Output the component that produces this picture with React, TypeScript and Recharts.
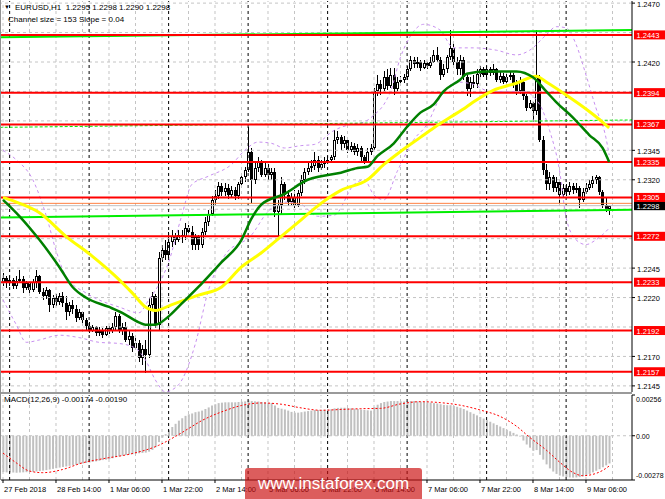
import React from "react";
import { ComposedChart, Bar, Line, XAxis, YAxis, ReferenceLine } from "recharts";

const FONT = '"Liberation Sans", Arial, sans-serif';

// EURUSD H1 candles: [open, high, low, close]
const candles: number[][] = [
  [1.2233,1.2241,1.2230,1.2237],[1.2237,1.2238,1.2228,1.2232],[1.2232,1.2238,1.2230,1.2235],[1.2235,1.2237,1.2227,1.2230],
  [1.2230,1.2238,1.2227,1.2234],[1.2234,1.2243,1.2232,1.2236],[1.2236,1.2238,1.2224,1.2228],[1.2228,1.2234,1.2226,1.2232],
  [1.2232,1.2233,1.2224,1.2226],[1.2226,1.2236,1.2225,1.2233],[1.2233,1.2243,1.2228,1.2238],[1.2238,1.2239,1.2223,1.2225],
  [1.2225,1.2228,1.2218,1.2221],[1.2221,1.2229,1.2219,1.2226],[1.2226,1.2227,1.2208,1.2214],[1.2214,1.2222,1.2211,1.2220],
  [1.2220,1.2223,1.2213,1.2216],[1.2216,1.2224,1.2214,1.2221],[1.2221,1.2225,1.2212,1.2215],[1.2215,1.2221,1.2201,1.2208],
  [1.2208,1.2216,1.2204,1.2214],[1.2214,1.2218,1.2206,1.2210],[1.2210,1.2214,1.2199,1.2203],[1.2203,1.2210,1.2201,1.2208],
  [1.2208,1.2209,1.2197,1.2201],[1.2201,1.2203,1.2192,1.2196],[1.2196,1.2199,1.2190,1.2192],[1.2192,1.2197,1.2191,1.2195],
  [1.2195,1.2196,1.2187,1.2190],[1.2190,1.2195,1.2187,1.2192],[1.2192,1.2194,1.2186,1.2188],[1.2188,1.2196,1.2187,1.2194],
  [1.2194,1.2196,1.2189,1.2192],[1.2192,1.2198,1.2190,1.2195],[1.2195,1.2208,1.2192,1.2204],[1.2204,1.2206,1.2190,1.2192],
  [1.2192,1.2198,1.2188,1.2195],[1.2195,1.2199,1.2182,1.2184],[1.2184,1.2192,1.2180,1.2187],[1.2187,1.2190,1.2174,1.2177],
  [1.2177,1.2186,1.2176,1.2181],[1.2181,1.2184,1.2165,1.2169],[1.2169,1.2180,1.2163,1.2176],[1.2176,1.2184,1.2156,1.2171],
  [1.2171,1.2220,1.2169,1.2214],[1.2214,1.2225,1.2210,1.2221],[1.2221,1.2223,1.2194,1.2197],[1.2197,1.2259,1.2192,1.2254],
  [1.2254,1.2265,1.2250,1.2260],[1.2260,1.2269,1.2252,1.2256],[1.2256,1.2276,1.2254,1.2267],[1.2267,1.2277,1.2263,1.2272],
  [1.2272,1.2275,1.2265,1.2269],[1.2269,1.2277,1.2267,1.2273],[1.2273,1.2277,1.2266,1.2271],[1.2271,1.2283,1.2269,1.2279],
  [1.2279,1.2282,1.2272,1.2276],[1.2276,1.2281,1.2260,1.2265],[1.2265,1.2274,1.2260,1.2271],[1.2271,1.2273,1.2260,1.2265],
  [1.2265,1.2279,1.2262,1.2276],[1.2276,1.2288,1.2273,1.2284],[1.2284,1.2294,1.2281,1.2291],[1.2291,1.2306,1.2289,1.2303],
  [1.2303,1.2311,1.2299,1.2306],[1.2306,1.2318,1.2304,1.2315],[1.2315,1.2317,1.2306,1.2310],[1.2310,1.2317,1.2306,1.2313],
  [1.2313,1.2316,1.2304,1.2307],[1.2307,1.2315,1.2305,1.2311],[1.2311,1.2314,1.2303,1.2306],[1.2306,1.2318,1.2304,1.2316],
  [1.2316,1.2324,1.2313,1.2322],[1.2322,1.2331,1.2318,1.2328],[1.2328,1.2365,1.2327,1.2344],[1.2344,1.2347,1.2300,1.2320],
  [1.2320,1.2334,1.2316,1.2330],[1.2330,1.2339,1.2327,1.2335],[1.2335,1.2337,1.2322,1.2324],[1.2324,1.2334,1.2322,1.2330],
  [1.2330,1.2333,1.2320,1.2324],[1.2324,1.2330,1.2320,1.2327],[1.2327,1.2330,1.2288,1.2293],[1.2293,1.2303,1.2272,1.2299],
  [1.2299,1.2322,1.2290,1.2316],[1.2316,1.2318,1.2303,1.2307],[1.2307,1.2311,1.2298,1.2301],[1.2301,1.2309,1.2299,1.2305],
  [1.2305,1.2311,1.2296,1.2299],[1.2299,1.2311,1.2297,1.2309],[1.2309,1.2324,1.2306,1.2320],[1.2320,1.2330,1.2316,1.2327],
  [1.2327,1.2334,1.2324,1.2330],[1.2330,1.2337,1.2327,1.2332],[1.2332,1.2344,1.2328,1.2337],[1.2337,1.2340,1.2327,1.2330],
  [1.2330,1.2337,1.2328,1.2333],[1.2333,1.2339,1.2330,1.2335],[1.2335,1.2340,1.2334,1.2337],[1.2337,1.2341,1.2334,1.2339],
  [1.2339,1.2362,1.2337,1.2354],[1.2354,1.2361,1.2350,1.2356],[1.2356,1.2358,1.2345,1.2350],[1.2350,1.2357,1.2347,1.2354],
  [1.2354,1.2356,1.2343,1.2345],[1.2345,1.2352,1.2344,1.2349],[1.2349,1.2351,1.2341,1.2344],[1.2344,1.2350,1.2340,1.2347],
  [1.2347,1.2349,1.2335,1.2339],[1.2339,1.2341,1.2333,1.2335],[1.2335,1.2347,1.2334,1.2344],[1.2344,1.2350,1.2341,1.2347],
  [1.2347,1.2398,1.2345,1.2395],[1.2395,1.2409,1.2391,1.2401],[1.2401,1.2405,1.2392,1.2397],[1.2397,1.2412,1.2395,1.2407],
  [1.2407,1.2414,1.2396,1.2400],[1.2400,1.2415,1.2398,1.2409],[1.2409,1.2415,1.2392,1.2397],[1.2397,1.2407,1.2395,1.2403],
  [1.2403,1.2408,1.2401,1.2405],[1.2405,1.2410,1.2402,1.2407],[1.2407,1.2417,1.2405,1.2414],[1.2414,1.2425,1.2412,1.2422],
  [1.2422,1.2424,1.2415,1.2418],[1.2418,1.2424,1.2415,1.2420],[1.2420,1.2422,1.2412,1.2415],[1.2415,1.2422,1.2414,1.2419],
  [1.2419,1.2420,1.2414,1.2417],[1.2417,1.2424,1.2415,1.2420],[1.2420,1.2430,1.2419,1.2426],[1.2426,1.2433,1.2420,1.2422],
  [1.2422,1.2424,1.2405,1.2409],[1.2409,1.2418,1.2407,1.2414],[1.2414,1.2426,1.2411,1.2424],[1.2424,1.2447,1.2422,1.2432],
  [1.2432,1.2435,1.2417,1.2420],[1.2420,1.2424,1.2409,1.2414],[1.2414,1.2426,1.2409,1.2422],[1.2422,1.2424,1.2405,1.2407],
  [1.2407,1.2409,1.2391,1.2397],[1.2397,1.2407,1.2390,1.2403],[1.2403,1.2409,1.2398,1.2401],[1.2401,1.2414,1.2398,1.2410],
  [1.2410,1.2417,1.2407,1.2414],[1.2414,1.2416,1.2407,1.2409],[1.2409,1.2417,1.2407,1.2414],[1.2414,1.2416,1.2408,1.2411],
  [1.2411,1.2418,1.2409,1.2414],[1.2414,1.2415,1.2403,1.2405],[1.2405,1.2412,1.2402,1.2408],[1.2408,1.2411,1.2401,1.2403],
  [1.2403,1.2410,1.2401,1.2407],[1.2407,1.2412,1.2405,1.2409],[1.2409,1.2411,1.2398,1.2401],[1.2401,1.2405,1.2392,1.2395],
  [1.2395,1.2407,1.2393,1.2403],[1.2403,1.2405,1.2388,1.2391],[1.2391,1.2393,1.2378,1.2381],[1.2381,1.2388,1.2380,1.2385],
  [1.2385,1.2386,1.2369,1.2378],[1.2378,1.2447,1.2375,1.2407],[1.2407,1.2409,1.2352,1.2354],[1.2354,1.2357,1.2324,1.2328],
  [1.2328,1.2333,1.2311,1.2316],[1.2316,1.2327,1.2311,1.2322],[1.2322,1.2324,1.2310,1.2313],[1.2313,1.2322,1.2310,1.2318],
  [1.2318,1.2320,1.2299,1.2307],[1.2307,1.2316,1.2305,1.2313],[1.2313,1.2316,1.2306,1.2310],[1.2310,1.2318,1.2307,1.2315],
  [1.2315,1.2317,1.2308,1.2311],[1.2311,1.2317,1.2309,1.2313],[1.2313,1.2315,1.2296,1.2303],[1.2303,1.2313,1.2301,1.2310],
  [1.2310,1.2317,1.2308,1.2313],[1.2313,1.2320,1.2311,1.2316],[1.2316,1.2323,1.2313,1.2320],[1.2320,1.2324,1.2316,1.2322],
  [1.2322,1.2323,1.2307,1.2310],[1.2310,1.2311,1.2296,1.2299],[1.2299,1.2305,1.2293,1.2295],[1.2295,1.2298,1.2290,1.2298],
];

// MACD(12,26,9) histogram, in units of 0.00001
const macdHist: number[] = [
  -228,-230,-231,-231,-232,-231,-230,-229,-228,-226,
  -224,-222,-219,-216,-212,-208,-204,-200,-196,-193,
  -189,-186,-182,-178,-174,-171,-168,-164,-161,-157,
  -153,-150,-146,-141,-134,-130,-125,-121,-118,-116,
  -113,-110,-108,-106,-100,-89,-72,-40,
  -12,10,35,55,75,95,110,125,135,140,148,152,
  158,168,178,190,198,205,208,210,210,210,
  210,212,214,216,222,218,216,215,212,210,
  208,206,190,175,170,165,158,150,145,145,
  148,152,155,158,162,162,163,164,165,166,
  172,175,176,176,174,172,170,168,165,162,160,158,
  180,195,205,212,215,218,218,218,
  216,215,216,218,218,216,214,212,210,208,
  205,203,198,194,192,192,188,182,176,168,
  158,148,138,128,118,108,98,88,78,68,
  58,48,38,28,18,8,-5,-30,-55,-75,-95,
  -90,-120,-150,-180,-205,-225,-240,-250,-256,
  -260,-262,-263,-262,-260,-255,-248,-240,-230,-220,-210,-198,-186,-174,
];

// MACD signal line readings [bar, value x 0.00001]
const macdSignal: number[][] = [
  [0,-109],[4,-170],[8,-222],[12,-232],[18,-212],[24,-170],[30,-145],[39,-112],[47,-60],[52,-5],
  [56,45],[60,95],[66,150],[72,190],[78,206],[84,198],[90,175],[96,160],[102,165],[108,170],
  [114,172],[120,200],[126,214],[132,208],[138,192],[144,162],[150,122],[155,60],[159,-10],[164,-90],
  [168,-165],[172,-230],[175,-251],[178,-243],[181,-218],[183,-190],
];

// Moving averages [bar, price]
const maGreen: number[][] = [
  [0,1.2303],[5,1.2289],[11,1.2269],[17,1.2246],[21,1.2229],[25,1.2220],[32,1.2212],[36,1.2207],
  [41,1.2199],[43,1.2197],[46,1.2197],[50,1.2204],[54,1.2215],[59,1.2229],[63,1.2241],[66,1.2250],
  [72,1.2269],[75,1.2287],[78,1.2299],[85,1.2308],[92,1.2320],[96,1.2323],[102,1.2326],[107,1.2330],
  [110,1.2331],[113,1.2340],[118,1.2351],[122,1.2365],[126,1.2377],[130,1.2384],[133,1.2395],[138,1.2405],
  [140,1.2410],[146,1.2412],[155,1.2412],[160,1.2407],[164,1.2395],[167,1.2386],[172,1.2373],[177,1.2358],
  [181,1.2347],[183,1.2335],
];
const maYellow: number[][] = [
  [0,1.2305],[5,1.2300],[11,1.2292],[19,1.2272],[27,1.2255],[34,1.2238],[39,1.2224],[43,1.2212],
  [46,1.2209],[51,1.2214],[59,1.2222],[66,1.2229],[72,1.2246],[78,1.2258],[84,1.2272],[90,1.2286],
  [96,1.2300],[102,1.2311],[110,1.2320],[115,1.2333],[120,1.2344],[126,1.2356],[130,1.2364],[135,1.2373],
  [140,1.2382],[142,1.2386],[148,1.2396],[155,1.2402],[161,1.2408],[164,1.2403],[170,1.2392],[177,1.2378],
  [181,1.2369],[183,1.2364],
];

// Bollinger bands [bar, price]
const bbUpper: number[][] = [
  [0,1.2345],[4,1.2337],[9,1.2320],[13,1.2290],[16,1.2260],[19,1.2238],[25,1.2224],[29,1.2218],
  [35,1.2212],[41,1.2207],[44,1.2218],[47,1.2231],[50,1.2250],[54,1.2290],[57,1.2316],[62,1.2323],
  [69,1.2333],[73,1.2345],[77,1.2352],[81,1.2351],[85,1.2347],[90,1.2349],[94,1.2350],[100,1.2362],
  [105,1.2367],[109,1.2369],[112,1.2375],[115,1.2384],[117,1.2395],[120,1.2424],[123,1.2442],[127,1.2452],
  [132,1.2447],[136,1.2432],[142,1.2432],[149,1.2430],[155,1.2426],[159,1.2430],[164,1.2443],[167,1.2450],
  [170,1.2449],[173,1.2435],[176,1.2409],[179,1.2381],[182,1.2356],[183,1.2341],
];
const bbLower: number[][] = [
  [0,1.2218],[4,1.2197],[7,1.2182],[11,1.2184],[17,1.2188],[23,1.2186],[29,1.2182],[35,1.2181],
  [40,1.2177],[43,1.2167],[46,1.2150],[49,1.2140],[53,1.2146],[58,1.2180],[62,1.2226],[67,1.2256],
  [75,1.2273],[80,1.2293],[85,1.2301],[90,1.2299],[95,1.2289],[100,1.2290],[106,1.2316],[109,1.2320],
  [112,1.2307],[115,1.2303],[119,1.2327],[124,1.2354],[128,1.2367],[132,1.2390],[137,1.2403],[142,1.2401],
  [147,1.2395],[157,1.2395],[162,1.2384],[165,1.2362],[168,1.2328],[170,1.2288],[173,1.2269],[176,1.2265],
  [179,1.2269],[182,1.2276],[183,1.2279],
];

// Regression channel end points [bar, price]
const channelTop: number[][] = [[-1,1.24410],[190,1.24471]];
const channelMid: number[][] = [[-1,1.23645],[190,1.23708]];
const channelBot: number[][] = [[-1,1.22880],[190,1.22945]];

const levels: number[] = [1.2443, 1.2394, 1.2367, 1.2335, 1.2305, 1.2272, 1.2233, 1.2192, 1.2157];
const orangeLevel = 1.2300;
const bidPrice = 1.2298;

const priceTicks: number[] = [1.2470, 1.2420, 1.2345, 1.2320, 1.2245, 1.2220, 1.2170, 1.2145];
const gridPrices: number[] = [1.2470,1.2445,1.2420,1.2395,1.2370,1.2345,1.2320,1.2295,1.2270,1.2245,1.2220,1.2195,1.2170,1.2145];
const timeTickIdx: number[] = [0,16,32,48,64,80,96,112,128,144,160,176];
const timeLabels: string[] = ["27 Feb 2018","28 Feb 14:00","1 Mar 06:00","1 Mar 22:00","2 Mar 14:00","5 Mar 06:00",
  "5 Mar 22:00","6 Mar 14:00","7 Mar 06:00","7 Mar 22:00","8 Mar 14:00","9 Mar 06:00"];
const gridIdx: number[] = [0,8,16,24,32,40,48,56,64,72,80,88,96,104,112,120,128,136,144,152,160,168,176,184];
const daySepIdx: number[] = [2,26,50,74,98,122,146,170];
const macdTicks: number[] = [0.00256, 0, -0.00278];

const X_DOMAIN: [number, number] = [-0.604, 189.89];
const PRICE_DOMAIN: [number, number] = [1.21398, 1.24718];
const MACD_DOMAIN: [number, number] = [-0.00278, 0.00256];

type Row = Record<string, any>;
const rows: Row[] = [{ i: -1 }];
candles.forEach(([o, h, l, c], i) =>
  rows.push({ i, o, h, l, c, range: [l, h], macd: macdHist[i] / 100000 })
);
rows.push({ i: 190 });
const byI = new Map<number, Row>();
rows.forEach((r) => byI.set(r.i, r));
const attach = (pts: number[][], key: string, k = 1) =>
  pts.forEach(([i, v]) => {
    const r = byI.get(i);
    if (r) r[key] = v * k;
  });
attach(maGreen, "maG");
attach(maYellow, "maY");
attach(bbUpper, "bbU");
attach(bbLower, "bbL");
attach(channelTop, "chT");
attach(channelMid, "chM");
attach(channelBot, "chB");
attach(macdSignal, "sig", 0.00001);

function Candle(props: any) {
  const { x, y, width, height, payload } = props;
  if (!payload || payload.o == null || !isFinite(y) || !isFinite(height)) return null;
  const { o, h, l, c } = payload;
  const span = h - l;
  const k = span > 0 ? height / span : 0;
  const py = (p: number) => y + (h - p) * k;
  const cx = Math.round(x + width / 2);
  const top = Math.round(py(Math.max(o, c)));
  const bot = Math.round(py(Math.min(o, c)));
  const bh = Math.max(bot - top, 1);
  const bull = c >= o;
  return (
    <g shapeRendering="crispEdges">
      <line x1={cx + 0.5} x2={cx + 0.5} y1={Math.round(y)} y2={Math.round(y + height)} stroke="#000" strokeWidth={1} />
      {bull ? (
        <rect x={cx - 0.5} y={top + 0.5} width={2} height={Math.max(bh - 1, 0.5)} fill="#fff" stroke="#000" strokeWidth={1} />
      ) : (
        <rect x={cx - 1} y={top} width={3} height={bh} fill="#000" />
      )}
    </g>
  );
}

const Tag = ({ viewBox, text, bg }: any) => {
  if (!viewBox) return null;
  const y = viewBox.y;
  const x = viewBox.x + viewBox.width + 2;
  return (
    <g>
      <rect x={x} y={y - 4.5} width={31} height={9} fill={bg} />
      <text x={x + 2.5} y={y + 3} fontSize={7.5} fontFamily={FONT} fill="#fff">{text}</text>
    </g>
  );
};

const PriceTick = (p: any) => (
  <text x={p.x} y={p.y} dy={3.5} fontSize={7.5} fontFamily={FONT} fill="#000" textAnchor="start">
    {Number(p.payload.value).toFixed(4)}
  </text>
);

const MacdTick = (p: any) => {
  const v = Number(p.payload.value);
  const txt = v === 0 ? "0.00" : v.toFixed(5);
  const dy = v > 0 ? 7 : v < 0 ? -2 : 3;
  return (
    <text x={p.x - 1} y={p.y} dy={dy} fontSize={7} fontFamily={FONT} fill="#000" textAnchor="start">{txt}</text>
  );
};

const TimeTick = (p: any) => {
  const idx = timeTickIdx.indexOf(Number(p.payload.value));
  return (
    <text x={p.x + 1} y={p.y} dy={7} fontSize={7.5} fontFamily={FONT} fill="#000" textAnchor="start">
      {idx >= 0 ? timeLabels[idx] : ""}
    </text>
  );
};

const GRID = "#c4c4c4";

export default function App() {
  return (
    <div style={{ position: "absolute", left: 0, top: 0, width: 665, height: 499, background: "#fff", overflow: "hidden" }}>
      <div style={{ position: "absolute", left: 0, top: 0 }}>
        <ComposedChart width={665} height={392} data={rows} margin={{ top: 1, right: 0, bottom: 0, left: 1 }}>
          <XAxis type="number" dataKey="i" domain={X_DOMAIN} allowDataOverflow hide />
          <YAxis
            orientation="right"
            width={33}
            type="number"
            domain={PRICE_DOMAIN}
            allowDataOverflow
            ticks={priceTicks}
            interval={0}
            tick={<PriceTick />}
            tickSize={3}
            axisLine={{ stroke: "#000" }}
            tickLine={{ stroke: "#000" }}
          />
          {gridPrices.map((p) => (
            <ReferenceLine key={"gp" + p} y={p} stroke={GRID} strokeDasharray="3 3" />
          ))}
          {gridIdx.map((i) => (
            <ReferenceLine key={"gx" + i} x={i} stroke={GRID} strokeDasharray="3 3" />
          ))}
          {daySepIdx.map((i) => (
            <ReferenceLine key={"ds" + i} x={i} stroke="#000" strokeDasharray="3 3" />
          ))}
          <Bar dataKey="range" barSize={3} shape={(p: any) => <Candle {...p} />} isAnimationActive={false} />
          <Line dataKey="bbU" type="monotone" stroke="#c890f0" strokeWidth={1} strokeDasharray="3 3" dot={false} connectNulls isAnimationActive={false} />
          <Line dataKey="bbL" type="monotone" stroke="#c890f0" strokeWidth={1} strokeDasharray="3 3" dot={false} connectNulls isAnimationActive={false} />
          <Line dataKey="chT" type="linear" stroke="#00ee00" strokeWidth={2} dot={false} connectNulls isAnimationActive={false} />
          <Line dataKey="chM" type="linear" stroke="#00ee00" strokeWidth={1} strokeDasharray="3 2" dot={false} connectNulls isAnimationActive={false} />
          <Line dataKey="chB" type="linear" stroke="#00ee00" strokeWidth={2} dot={false} connectNulls isAnimationActive={false} />
          <ReferenceLine y={orangeLevel} stroke="#ff8040" strokeWidth={1} />
          <ReferenceLine
            y={bidPrice}
            stroke="#c0c0c0"
            strokeWidth={1}
            label={(p: any) => <Tag viewBox={p.viewBox} text={bidPrice.toFixed(4)} bg="#000" />}
          />
          {levels.map((lv) => (
            <ReferenceLine
              key={"lv" + lv}
              y={lv}
              stroke="#ff0000"
              strokeWidth={2}
              label={(p: any) => <Tag viewBox={p.viewBox} text={lv.toFixed(4)} bg="#ff0000" />}
            />
          ))}
          <Line dataKey="maY" type="monotone" stroke="#ffff00" strokeWidth={3} dot={false} connectNulls isAnimationActive={false} />
          <Line dataKey="maG" type="monotone" stroke="#008000" strokeWidth={2.5} dot={false} connectNulls isAnimationActive={false} />
        </ComposedChart>
      </div>

      <div style={{ position: "absolute", left: 0, top: 392, width: 632, height: 2, background: "#9a9a9a" }} />

      <div style={{ position: "absolute", left: 0, top: 393 }}>
        <ComposedChart width={665} height={106} data={rows} margin={{ top: 2, right: 0, bottom: 0, left: 1 }}>
          <XAxis
            type="number"
            dataKey="i"
            domain={X_DOMAIN}
            allowDataOverflow
            ticks={timeTickIdx}
            interval={0}
            height={19}
            tickSize={3}
            tick={<TimeTick />}
            axisLine={{ stroke: "#000" }}
            tickLine={{ stroke: "#000" }}
          />
          <YAxis
            orientation="right"
            width={33}
            type="number"
            domain={MACD_DOMAIN}
            allowDataOverflow
            ticks={macdTicks}
            interval={0}
            tick={<MacdTick />}
            tickSize={3}
            axisLine={{ stroke: "#000" }}
            tickLine={{ stroke: "#000" }}
          />
          {gridIdx.map((i) => (
            <ReferenceLine key={"mgx" + i} x={i} stroke={GRID} strokeDasharray="3 3" />
          ))}
          {daySepIdx.map((i) => (
            <ReferenceLine key={"mds" + i} x={i} stroke="#000" strokeDasharray="3 3" />
          ))}
          <ReferenceLine y={0} stroke={GRID} strokeDasharray="3 3" />
          <Bar dataKey="macd" barSize={2} fill="#c0c0c0" isAnimationActive={false} />
          <Line dataKey="sig" type="monotone" stroke="#ff0000" strokeWidth={1} strokeDasharray="2 2" dot={false} connectNulls isAnimationActive={false} />
        </ComposedChart>
      </div>

      <div style={{ position: "absolute", left: 0, top: 0, width: 1, height: 480, background: "#909090" }} />

      <div style={{ position: "absolute", left: 4, top: 2, fontFamily: FONT, fontSize: 6, lineHeight: "10px", color: "#000" }}>▼</div>
      <div style={{ position: "absolute", left: 15, top: 2.5, fontFamily: FONT, fontSize: 8, lineHeight: "10px", color: "#000", whiteSpace: "pre" }}>
        EURUSD,H1  1.2295 1.2298 1.2290 1.2298
      </div>
      <div style={{ position: "absolute", left: 8, top: 14.5, fontFamily: FONT, fontSize: 8, lineHeight: "10px", color: "#000", whiteSpace: "pre" }}>
        Channel size = 153 Slope = 0.04
      </div>
      <div style={{ position: "absolute", left: 4, top: 395, fontFamily: FONT, fontSize: 8, lineHeight: "10px", color: "#000", whiteSpace: "pre" }}>
        MACD(12,26,9) -0.00174 -0.00190
      </div>

      <div
        style={{
          position: "absolute",
          left: 245,
          top: 468,
          width: 177,
          height: 31,
          background: "rgba(204,16,16,0.68)",
          borderRadius: "3px 3px 0 0",
          color: "#fff",
          fontFamily: FONT,
          fontSize: 17,
          lineHeight: "31px",
          textAlign: "center",
        }}
      >
        www.instaforex.com
      </div>
    </div>
  );
}
